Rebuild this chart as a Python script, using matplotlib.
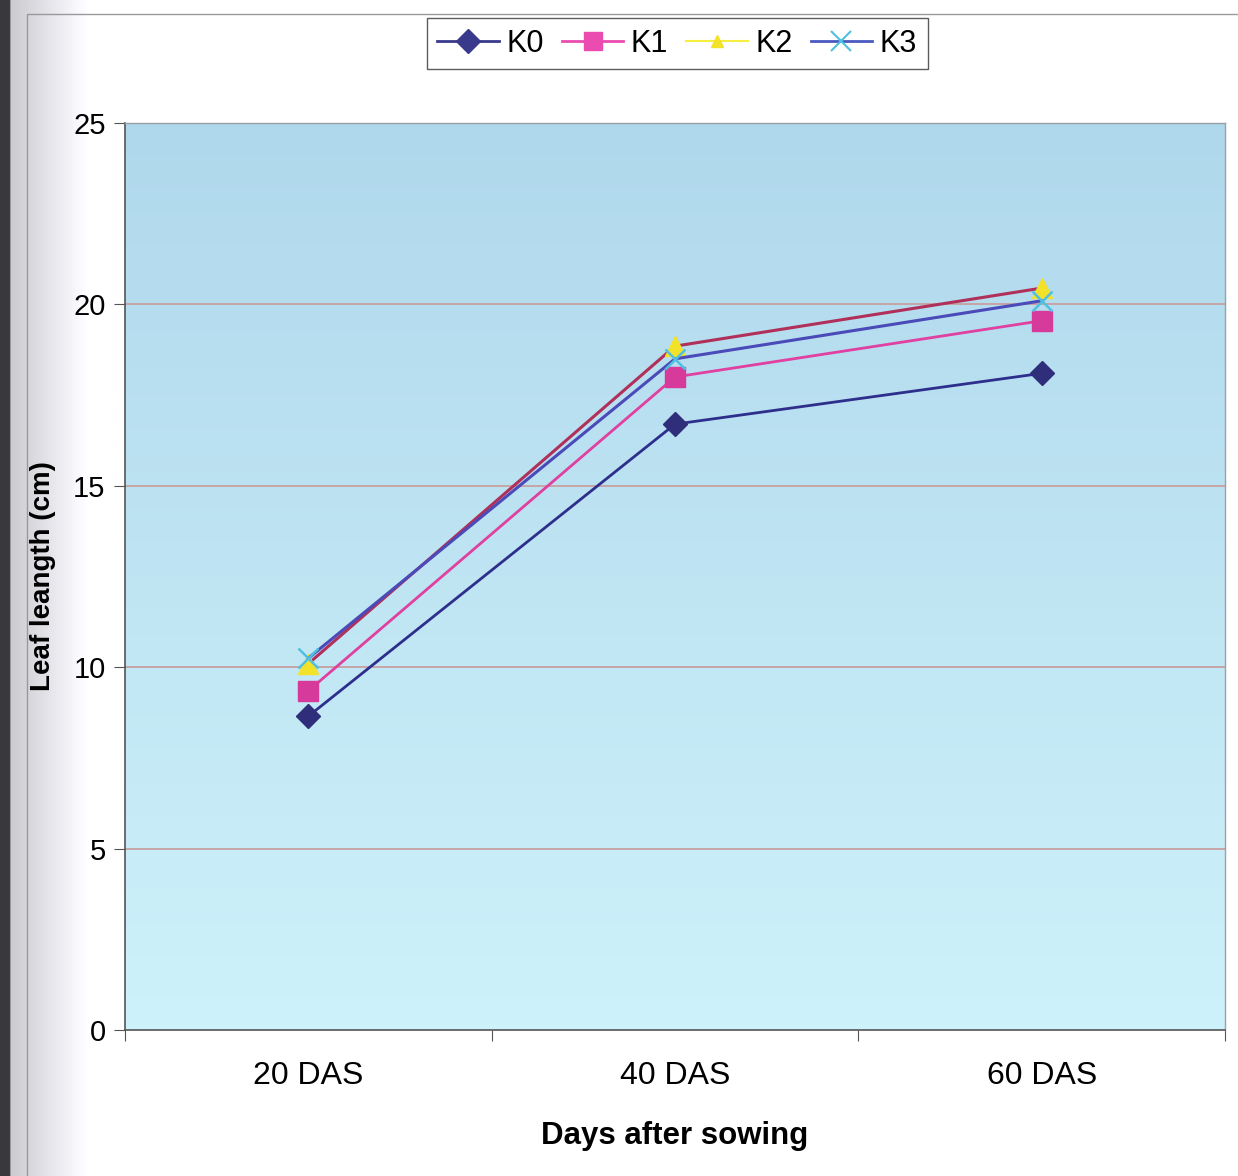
"""
leaf length vs days after sowing, K levels
"""

import numpy as np
import matplotlib.pyplot as plt
from matplotlib.lines import Line2D

# data
# -------------------
days = ["20 DAS", "40 DAS", "60 DAS"]
k0 = [8.65, 16.7, 18.1]
k1 = [9.35, 18.0, 19.55]
k2 = [10.1, 18.85, 20.45]
k3 = [10.25, 18.5, 20.1]

plt.rcParams['font.family'] = ['Liberation Sans', 'DejaVu Sans']

fig = plt.figure(figsize=(12.38, 11.76), dpi=100)

# scanned page background: grey shadow on the left side
bg = fig.add_axes([0, 0, 1, 1], zorder=-10)
xs = np.linspace(0, 1, 600)
shade = np.clip(0.80 + 0.20 * ((xs - 0.01) / 0.06), 0.80, 1.0)
shade[xs < 0.008] = 0.22
grad = np.ones((2, 600, 3))
grad[:, :, 0] = shade
grad[:, :, 1] = shade
grad[:, :, 2] = np.clip(shade + 0.02, 0, 1)
bg.imshow(grad, aspect='auto', extent=[0, 1, 0, 1])
bg.plot([0.022, 0.022, 1.0], [0.0, 0.988, 0.988], color="#9a9a9a", lw=1)
bg.set_xlim(0, 1)
bg.set_ylim(0, 1)
bg.axis("off")

ax = fig.add_axes([0.101, 0.1241, 0.8885, 0.7713])

# plot area gradient
top = np.array([176, 216, 236]) / 255
bottom = np.array([206, 242, 251]) / 255
t = np.linspace(0, 1, 200)[:, None]
img = (top * (1 - t) + bottom * t)[:, None, :]
ax.imshow(img, aspect='auto', extent=[0, 3, 0, 25], zorder=0)

x = np.arange(len(days)) + 0.5

ax.plot(x, k0, color="#2e2e8c", lw=2, marker="D", ms=12, mfc="#2e2e7a", mec="#2e2e7a", zorder=3)
ax.plot(x, k1, color="#e040a0", lw=2, marker="s", ms=14, mfc="#d63a9a", mec="#d63a9a", zorder=3)
ax.plot(x, k2, color="#b0305a", lw=2.2, marker="^", ms=14, mfc="#f2e22a", mec="#f2e22a", zorder=4)
ax.plot(x, k3, color="#4a4ab8", lw=2.2, marker="x", ms=15, mew=1.8, mec="#50c0e0", zorder=5)

ax.set_xlim(0, 3)
ax.set_ylim(0, 25)
ax.set_yticks([0, 5, 10, 15, 20, 25])
ax.set_xticks([0, 1, 2, 3])
ax.set_xticklabels([])
ax.set_xticks(x, minor=True)
ax.set_xticklabels(days, minor=True)
ax.tick_params(axis="x", which="minor", length=0, pad=22, labelsize=23)
ax.tick_params(axis="x", which="major", length=8, color="#555555")
ax.tick_params(axis="y", labelsize=21, length=8, color="#555555", pad=6)

for yv in [5, 10, 15, 20]:
    ax.axhline(yv, color="#c99a98", lw=1.2, zorder=1)

for s in ["top", "right"]:
    ax.spines[s].set_color("#9aa0a6")
    ax.spines[s].set_linewidth(1)
for s in ["left", "bottom"]:
    ax.spines[s].set_color("#555555")
    ax.spines[s].set_linewidth(1.2)

ax.set_xlabel("Days after sowing", fontsize=22.5, fontweight="bold", labelpad=22)
ax.set_ylabel("Leaf leangth (cm)", fontsize=20, fontweight="bold", labelpad=12)

# legend uses the original series colours
handles = [
    Line2D([], [], color="#3a3a8c", lw=2, marker="D", ms=12, mfc="#3a3a8c", mec="#3a3a8c"),
    Line2D([], [], color="#ea4cb0", lw=2, marker="s", ms=13, mfc="#ea4cb0", mec="#ea4cb0"),
    Line2D([], [], color="#f5ef40", lw=1.5, marker="^", ms=9, mfc="#f2e22a", mec="#f2e22a"),
    Line2D([], [], color="#4a5ac0", lw=2, marker="x", ms=14, mew=1.5, mec="#50c0e0"),
]
leg = fig.legend(handles, ["K0", "K1", "K2", "K3"], loc="center", bbox_to_anchor=(0.547, 0.963),
                 ncol=4, fontsize=22, frameon=True, fancybox=False, handlelength=2.0,
                 handletextpad=0.25, columnspacing=0.6, borderpad=0.35)
leg.get_frame().set_edgecolor("#333333")
leg.get_frame().set_linewidth(1)

fig.savefig("out.png", dpi=100)
